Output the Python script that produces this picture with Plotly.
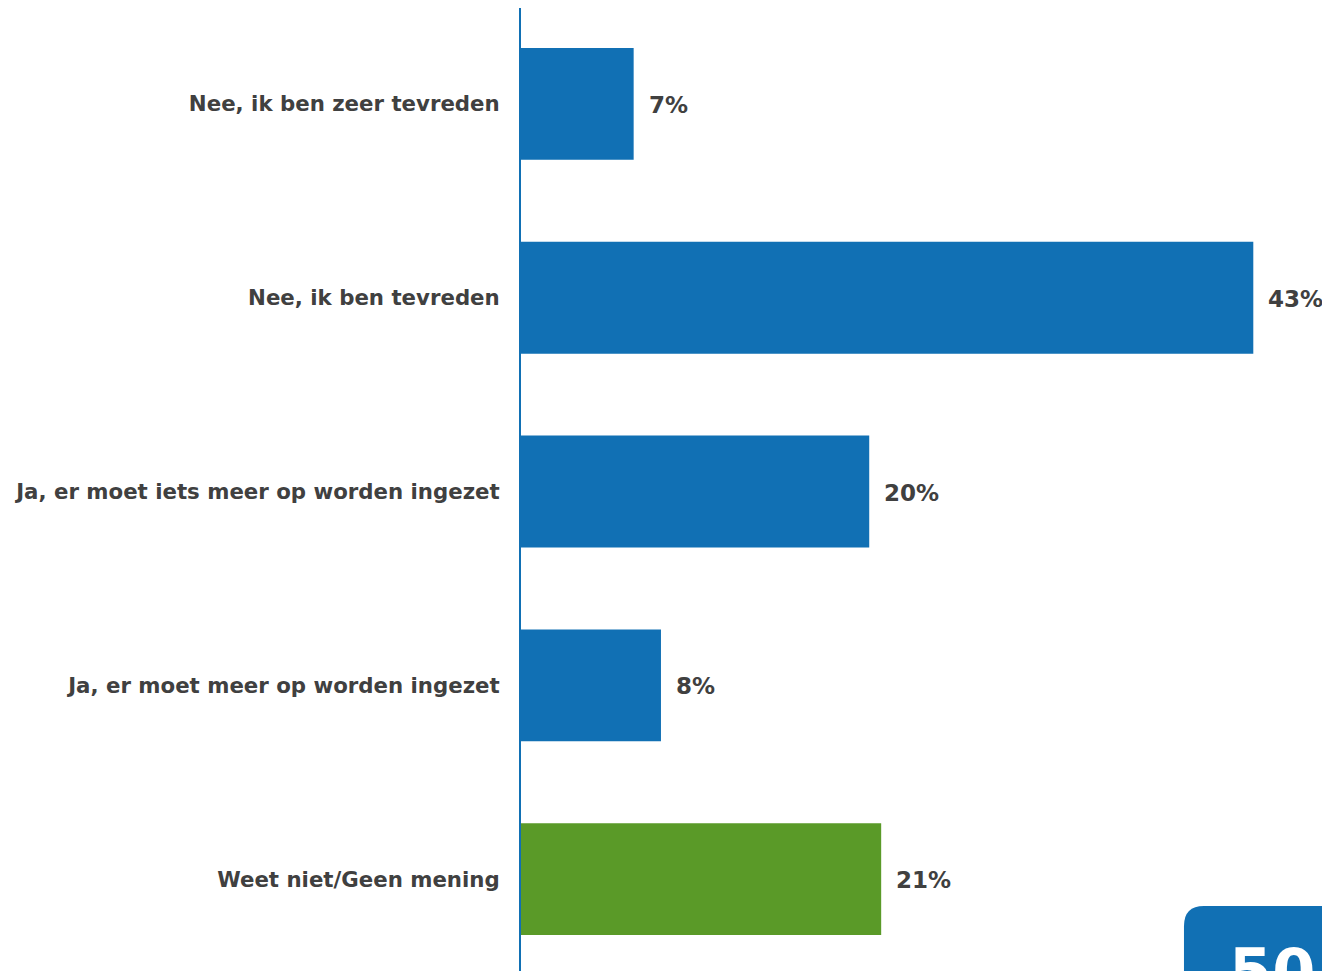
import plotly.graph_objects as go

categories = [
    "Nee, ik ben zeer tevreden",
    "Nee, ik ben tevreden",
    "Ja, er moet iets meer op worden ingezet",
    "Ja, er moet meer op worden ingezet",
    "Weet niet/Geen mening",
]
values = [6.6, 42.9, 20.4, 8.2, 21.1]
labels = ["7%", "43%", "20%", "8%", "21%"]
bar_colors = ["#1170B4", "#1170B4", "#1170B4", "#1170B4", "#5A9A28"]
page_number = "50"

FONT = "Verdana, DejaVu Sans, sans-serif"
TEXT_COLOR = "#404040"

fig = go.Figure()
fig.add_trace(go.Bar(
    y=categories,
    x=values,
    orientation="h",
    marker=dict(color=bar_colors, line=dict(width=0)),
    width=0.577,
    hoverinfo="skip",
))

for cat, val, lab in zip(categories, values, labels):
    fig.add_annotation(
        x=val, y=cat, xref="x", yref="y",
        text=f"<b>{lab}</b>", showarrow=False,
        xanchor="left", yanchor="middle", xshift=13, yshift=-1,
        font=dict(family=FONT, size=23, color=TEXT_COLOR),
    )

# page number badge (paper coords: plot spans x 521..1330, y 8..971)
x0 = 0.8195
y0 = 0.0675
rx = 20 / 809
ry = 20 / 963
fig.add_shape(
    type="path", xref="paper", yref="paper",
    path=(f"M {x0},-0.1 L {x0},{y0 - ry} Q {x0},{y0} {x0 + rx},{y0} "
          f"L 1.1,{y0} L 1.1,-0.1 Z"),
    fillcolor="#1170B4", line=dict(width=0), layer="above",
)
fig.add_annotation(
    x=(1227 - 521) / 809, y=38 / 963, xref="paper", yref="paper",
    text=f"<b>{page_number}</b>", showarrow=False,
    xanchor="left", yanchor="top",
    font=dict(family=FONT, size=62, color="white"),
)

fig.update_layout(
    width=1322, height=963,
    margin=dict(l=513, r=0, t=0, b=0),
    paper_bgcolor="white", plot_bgcolor="white",
    showlegend=False,
    font=dict(family=FONT, size=21.3, color=TEXT_COLOR),
)
fig.update_xaxes(
    range=[0, 809 / 17.07], visible=False, showgrid=False, zeroline=False,
)
fig.update_yaxes(
    categoryorder="array", categoryarray=categories,
    range=[4.474, -0.495],
    showgrid=False, zeroline=False, ticks="",
    showline=True, linecolor="#1170B4", linewidth=2,
    tickfont=dict(family=FONT, size=21.3, color=TEXT_COLOR),
    ticklabelstandoff=15,
    tickprefix="<b>", ticksuffix="</b>",
)

fig.write_html("out.html")
